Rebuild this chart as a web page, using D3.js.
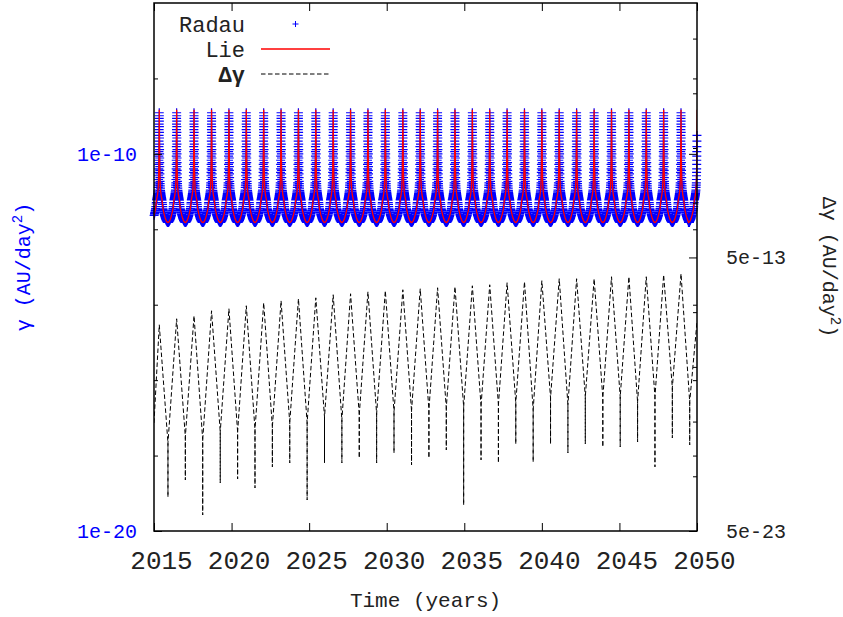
<!DOCTYPE html>
<html><head><meta charset="utf-8">
<script src="https://cdn.jsdelivr.net/npm/d3@7"></script>
<style>
body{margin:0;background:#fff}
svg{display:block}
text{font-family:"Liberation Mono","DejaVu Sans Mono",monospace}
</style>
</head><body>
<svg id="chart" width="843" height="617"></svg>
<script>
// ---------- data ----------
const xDomain = [2015, 2050];
const xTicks = [2015, 2020, 2025, 2030, 2035, 2040, 2045, 2050];
const xTickLabels = ["2015","2020","2025","2030","2035","2040","2045","2050"];
const yLeftMajor = [1e-20, 1e-10];
const yLeftLabels = ["1e-20", "1e-10"];
const yLeftMinor = [1e-18, 1e-16, 1e-14, 1e-12, 1e-8];
const yRightMajor = [5e-23, 5e-13];
const yRightLabels = ["5e-23", "5e-13"];
const yRightMinor = [5e-21, 5e-19, 5e-17, 5e-15, 5e-11, 5e-9, 5e-7, 5e-5];
const seriesNames = ["Radau", "Lie", "\u0394\u03b3"];

// epochs of the gamma maxima (years)
const peakYears = [2015.34, 2016.46, 2017.58, 2018.71, 2019.83, 2020.95, 2022.07, 2023.19,
  2024.31, 2025.43, 2026.55, 2027.67, 2028.79, 2029.91, 2031.04, 2032.16, 2033.28, 2034.40,
  2035.52, 2036.64, 2037.76, 2038.88, 2040.00, 2041.12, 2042.24, 2043.37, 2044.49, 2045.61,
  2046.73, 2047.85, 2048.97, 2050.01];

// Radau output: days from each maximum and log10(gamma) at those days
const radauOffsetDays = [-204,-197,-189,-179,-171,-161,-153,-144,-137,-128,-121,-113,-107,-99,-93,-86,
  -81,-74,-70,-64,-60,-55,-52,-47,-44,-40,-38,-34,-33,-29,-25,-22,-19,-17,-15,-13,
  -11.5,-10.5,-9.5,-8.5,-7.5,-6.5,-5.5,-4.5,-3.5,-2.5,-1.5,-0.5,
  1,2,3,4,5,6,7,8,9,10,11,12,14,16,18,20,23,26,30,33,35,38,41,44,48,52,56,60,65,70,75,81,87,
  93,100,107,114,121,129,137,145,153,162,171,180,189,198];
const radauLog10Gamma = [-11.82,-11.82,-11.81,-11.80,-11.78,-11.77,-11.74,-11.72,-11.69,-11.66,-11.63,
  -11.59,-11.56,-11.52,-11.49,-11.45,-11.40,-11.33,-11.29,-11.22,-11.20,-11.17,-11.15,-11.12,-11.10,
  -11.07,-11.05,-11.01,-11.01,-10.96,-10.89,-10.83,-10.77,-10.68,-10.58,-10.49,
  -10.40,-10.28,-10.17,-10.06,-9.94,-9.81,-9.66,-9.51,-9.36,-9.21,-9.06,-8.91,
  -8.99,-9.13,-9.28,-9.43,-9.58,-9.74,-9.89,-10.00,-10.11,-10.23,-10.34,-10.44,-10.53,-10.63,
  -10.73,-10.79,-10.85,-10.91,-10.97,-11.01,-11.02,-11.05,-11.07,-11.10,-11.12,-11.15,-11.17,
  -11.20,-11.23,-11.29,-11.34,-11.40,-11.46,-11.49,-11.52,-11.56,-11.60,-11.63,-11.66,-11.69,
  -11.72,-11.74,-11.77,-11.78,-11.80,-11.81,-11.82];

// Lie output: days from each maximum and log10(gamma)
const lieOffsetDays = [-205,-188,-165,-141,-118,-87,-64,-42,-28,-19,-12,-7,-3.5,0,3.5,7,12,19,28,42,64,87,118,141,165,188];
const lieLog10Gamma = [-11.82,-11.81,-11.78,-11.71,-11.62,-11.46,-11.22,-11.09,-10.95,-10.77,-10.42,
  -9.89,-9.36,-8.83,-9.36,-9.89,-10.42,-10.77,-10.95,-11.09,-11.22,-11.46,-11.62,-11.71,-11.78,-11.81];

// Delta gamma (right axis)
const dgStart = [2015.00, 4.48e-19];
const dgEnd = [2050.00, 2.22e-15];
const dgPeak = [1.72e-15, 2.86e-15, 3.68e-15, 5.61e-15, 6.64e-15, 8.55e-15, 1.10e-14, 1.30e-14,
  1.54e-14, 1.67e-14, 2.16e-14, 2.35e-14, 2.78e-14, 3.03e-14, 3.29e-14, 3.58e-14, 3.89e-14,
  4.24e-14, 4.60e-14, 5.01e-14, 5.93e-14, 6.46e-14, 7.02e-14, 8.32e-14, 8.32e-14, 8.32e-14,
  9.84e-14, 9.84e-14, 9.84e-14, 1.16e-13, 1.27e-13];
const valleyYears = [2015.90, 2017.02, 2018.14, 2019.27, 2020.39, 2021.51, 2022.63, 2023.75,
  2024.87, 2025.99, 2027.11, 2028.23, 2029.35, 2030.47, 2031.60, 2032.72, 2033.84, 2034.96,
  2036.08, 2037.20, 2038.32, 2039.44, 2040.56, 2041.68, 2042.80, 2043.93, 2045.05, 2046.17,
  2047.29, 2048.41, 2049.53];
const dgValleyTop = [8.30e-20, 1.37e-19, 1.07e-19, 2.09e-19, 2.09e-19, 2.48e-19, 3.19e-19, 4.48e-19,
  4.48e-19, 7.41e-19, 5.75e-19, 8.77e-19, 9.55e-19, 1.13e-18, 1.23e-18, 1.34e-18, 1.58e-18,
  1.72e-18, 1.88e-18, 2.04e-18, 2.42e-18, 1.34e-18, 3.67e-18, 2.04e-18, 4.00e-18, 3.67e-18,
  4.00e-18, 2.62e-18, 4.00e-18, 8.53e-18, 2.62e-18];
const dgValleyBottom = [8.77e-22, 3.67e-21, 1.92e-22, 2.85e-21, 4.00e-21, 1.87e-21, 1.10e-20, 1.54e-20,
  6.81e-22, 1.54e-20, 1.54e-20, 2.34e-20, 1.54e-20, 3.57e-20, 1.30e-20, 2.34e-20, 4.60e-20,
  4.47e-22, 1.98e-20, 1.54e-20, 7.62e-20, 1.67e-20, 7.62e-20, 3.57e-20, 7.62e-20, 5.93e-20,
  5.93e-20, 9.02e-20, 1.10e-20, 1.26e-19, 7.02e-20];

// ---------- layout ----------
const M = {left: 154, right: 697, top: 3, bottom: 531};
const FONT = '"Liberation Mono","DejaVu Sans Mono",monospace';
const INK = "#222";

const svg = d3.select("#chart");
const x = d3.scaleLinear().domain(xDomain).range([M.left, M.right]);
const yL = d3.scaleLog().domain([1e-20, 1e-6]).range([M.bottom, M.top]);
const yR = d3.scaleLog().domain([5e-23, 1e-3]).range([M.bottom, M.top]);

svg.append("defs").append("clipPath").attr("id", "clip")
  .append("rect").attr("x", M.left).attr("y", M.top)
  .attr("width", M.right - M.left).attr("height", M.bottom - M.top);

// build point tables from the cycle tables
function buildSeries(offsets, logs, t0, t1) {
  const pts = [];
  peakYears.forEach(p => offsets.forEach((o, i) => {
    const t = p + o / 365.25;
    if (t >= t0 && t <= t1) pts.push({t: t, v: Math.pow(10, logs[i])});
  }));
  return pts.sort((a, b) => a.t - b.t);
}
const radauPts = buildSeries(radauOffsetDays, radauLog10Gamma, 2015, 2050);
const liePts = buildSeries(lieOffsetDays, lieLog10Gamma, 2014.9, 2050.2);

const dgPts = [{t: dgStart[0], v: dgStart[1]}];
valleyYears.forEach((vy, k) => {
  dgPts.push({t: peakYears[k], v: dgPeak[k]});
  dgPts.push({t: vy, v: dgValleyTop[k]});
  dgPts.push({t: vy, v: dgValleyBottom[k]});
  dgPts.push({t: vy, v: dgValleyTop[k]});
});
dgPts.push({t: dgEnd[0], v: dgEnd[1]});

// ---------- Radau crosses ----------
const cs = 4.5;
svg.append("path")
  .attr("d", radauPts.map(p => {
    const px = x(p.t), py = yL(p.v);
    return `M${px - cs},${py}h${2 * cs}M${px},${py - cs}v${2 * cs}`;
  }).join(""))
  .attr("fill", "none").attr("stroke", "#0000ff").attr("stroke-width", 1.2);

// ---------- Lie line ----------
svg.append("path").datum(liePts)
  .attr("clip-path", "url(#clip)")
  .attr("d", d3.line().x(d => x(d.t)).y(d => yL(d.v)))
  .attr("fill", "none").attr("stroke", "#ff0000").attr("stroke-width", 1.3);

// ---------- Delta gamma ----------
svg.append("path").datum(dgPts)
  .attr("clip-path", "url(#clip)")
  .attr("d", d3.line().x(d => x(d.t)).y(d => yR(d.v)))
  .attr("fill", "none").attr("stroke", "#000").attr("stroke-width", 1)
  .attr("stroke-dasharray", "4.5,2.5");

// ---------- axes ----------
function clean(g) {
  g.attr("font-family", null).attr("font-size", null);
  g.select(".domain").remove();
  g.selectAll(".tick line").attr("stroke", "#000").attr("stroke-width", 1);
}
// bottom
svg.append("g").attr("transform", `translate(0,${M.bottom})`)
  .call(d3.axisBottom(x).tickValues(xTicks).tickSize(-8).tickPadding(20)
    .tickFormat((d, i) => xTickLabels[i]))
  .call(clean)
  .call(g => g.selectAll("text").attr("x", 7).style("font-family", FONT)
    .style("font-size", "26px").attr("fill", INK));
// top mirror
svg.append("g").attr("transform", `translate(0,${M.top})`)
  .call(d3.axisTop(x).tickValues(xTicks).tickSize(-8).tickFormat(""))
  .call(clean);
// left major + labels
svg.append("g").attr("transform", `translate(${M.left},0)`)
  .call(d3.axisLeft(yL).tickValues(yLeftMajor).tickSize(-8).tickPadding(17)
    .tickFormat((d, i) => yLeftLabels[i]))
  .call(clean)
  .call(g => g.selectAll("text").style("font-family", FONT).style("font-size", "20px")
    .attr("fill", "#0000ff"));
svg.append("g").attr("transform", `translate(${M.left},0)`)
  .call(d3.axisLeft(yL).tickValues(yLeftMinor).tickSize(-4).tickFormat(""))
  .call(clean);
// left ticks mirrored on the right border
svg.append("g").attr("transform", `translate(${M.right},0)`)
  .call(d3.axisRight(yL).tickValues(yLeftMajor).tickSize(-8).tickFormat(""))
  .call(clean);
svg.append("g").attr("transform", `translate(${M.right},0)`)
  .call(d3.axisRight(yL).tickValues(yLeftMinor).tickSize(-4).tickFormat(""))
  .call(clean);
// right (y2) axis
svg.append("g").attr("transform", `translate(${M.right},0)`)
  .call(d3.axisRight(yR).tickValues(yRightMajor).tickSize(-8).tickPadding(29)
    .tickFormat((d, i) => yRightLabels[i]))
  .call(clean)
  .call(g => g.selectAll("text").style("font-family", FONT).style("font-size", "20px")
    .attr("fill", INK));
svg.append("g").attr("transform", `translate(${M.right},0)`)
  .call(d3.axisRight(yR).tickValues(yRightMinor).tickSize(-4).tickFormat(""))
  .call(clean);

// border
svg.append("rect").attr("x", M.left).attr("y", M.top)
  .attr("width", M.right - M.left).attr("height", M.bottom - M.top)
  .attr("fill", "none").attr("stroke", "#000").attr("stroke-width", 1.5);

// ---------- titles ----------
svg.append("text").attr("x", (M.left + M.right) / 2).attr("y", 607)
  .attr("text-anchor", "middle").style("font-size", "21px").attr("fill", INK)
  .text("Time (years)");

const lt = svg.append("text").attr("transform", `translate(30,${(M.top + M.bottom) / 2}) rotate(-90)`)
  .attr("text-anchor", "middle").style("font-size", "20px").attr("fill", "#0000ff");
lt.append("tspan").text("\u03b3 (AU/day");
lt.append("tspan").attr("dy", -8).style("font-size", "14px").text("2");
lt.append("tspan").attr("dy", 8).text(")");

const rt = svg.append("text").attr("transform", `translate(823,${(M.top + M.bottom) / 2}) rotate(90)`)
  .attr("text-anchor", "middle").style("font-size", "20px").attr("fill", INK);
rt.append("tspan").text("\u0394\u03b3 (AU/day");
rt.append("tspan").attr("dy", -8).style("font-size", "14px").text("2");
rt.append("tspan").attr("dy", 8).text(")");

// ---------- legend ----------
const legY = [32, 57, 82];
const sx0 = 261, sx1 = 330;
seriesNames.forEach((n, i) => {
  svg.append("text").attr("x", 245).attr("y", legY[i]).attr("text-anchor", "end")
    .style("font-size", "22px").attr("fill", INK)
    .style("font-weight", i === 2 ? "bold" : "normal").text(n);
});
const lc = (sx0 + sx1) / 2, lcy = legY[0] - 8;
svg.append("path").attr("d", `M${lc - 3},${lcy}h6M${lc},${lcy - 3}v6`)
  .attr("stroke", "#0000ff").attr("stroke-width", 1).attr("fill", "none");
svg.append("line").attr("x1", sx0).attr("x2", sx1).attr("y1", legY[1] - 8).attr("y2", legY[1] - 8)
  .attr("stroke", "#ff0000").attr("stroke-width", 1.5);
svg.append("line").attr("x1", sx0).attr("x2", sx1).attr("y1", legY[2] - 8).attr("y2", legY[2] - 8)
  .attr("stroke", "#000").attr("stroke-width", 1).attr("stroke-dasharray", "4.5,2.5");
</script>
</body></html>
